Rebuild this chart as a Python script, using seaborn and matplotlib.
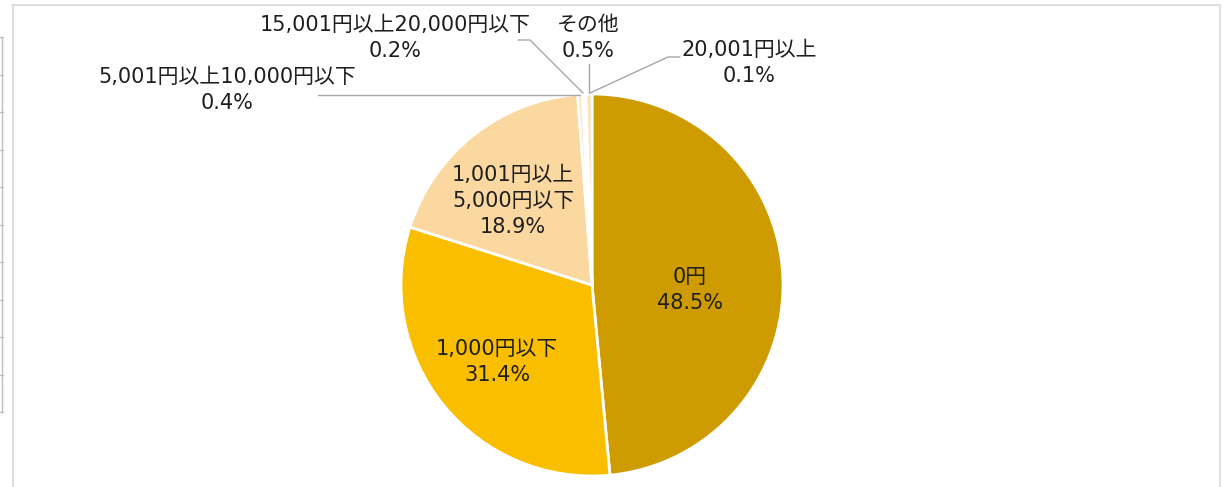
import matplotlib
matplotlib.use('Agg')
import numpy as np
import matplotlib.pyplot as plt
import seaborn as sns
from matplotlib.lines import Line2D

categories = ['0円', '1,000円以下', '1,001円以上\n5,000円以下', '5,001円以上10,000円以下',
              '15,001円以上20,000円以下', '20,001円以上', 'その他']
shares = [48.5, 31.4, 18.9, 0.4, 0.2, 0.1, 0.5]
colors = ['#CE9C00', '#FABE00', '#FBD8A0', '#FCE4C0', '#FDEBD2', '#FEF1E0', '#FCE0B4']

sns.set_theme(style='white')
plt.rcParams['font.family'] = ['DejaVu Sans', 'Noto Sans CJK JP']

W, H = 1229, 487
fig = plt.figure(figsize=(W / 100, H / 100), dpi=100)
cx, cy, r = 592, 285, 191
ax = fig.add_axes([(cx - r) / W, (H - cy - r) / H, 2 * r / W, 2 * r / H])

wedges, _ = ax.pie(shares, colors=colors, startangle=90, counterclock=False, radius=1,
                   wedgeprops=dict(edgecolor='white', linewidth=2))
ax.set_xlim(-1, 1)
ax.set_ylim(-1, 1)
ax.set_aspect('auto')
ax.axis('off')

def px(x, y):
    # pixel (from top-left) -> data coords of the pie axes
    return ((x - cx) / r, (cy - y) / r)

fs = 15
tc = '#1f1f1f'
# labels inside the big slices
inside = {0: (690, 290), 1: (497, 362), 2: (513, 201)}
for i, (x, y) in inside.items():
    ax.text(*px(x, y), f'{categories[i]}\n{shares[i]}%', ha='center', va='center',
            fontsize=fs, color=tc, linespacing=1.35)

# outside labels with leader lines
outside = {
    3: ((227, 90), [(318, 95), (580, 95)]),
    4: ((395, 38), [(518, 40), (530, 40), (583, 93)]),
    6: ((588, 38), [(589, 64), (589, 93)]),
    5: ((749, 63), [(680, 57), (668, 57), (590, 93)]),
}
for i, ((x, y), path) in outside.items():
    ax.text(*px(x, y), f'{categories[i]}\n{shares[i]}%', ha='center', va='center',
            fontsize=fs, color=tc, linespacing=1.35)
    pts = np.array([px(*p) for p in path])
    ax.plot(pts[:, 0], pts[:, 1], color='#A6A6A6', lw=1, clip_on=False)

# frame around chart area
g = '#D9D9D9'
fig.add_artist(Line2D([12 / W, 1220 / W], [1 - 5 / H, 1 - 5 / H], color=g, lw=1.2))
fig.add_artist(Line2D([12.5 / W, 12.5 / W], [0, 1 - 5 / H], color=g, lw=1.2))
fig.add_artist(Line2D([1220 / W, 1220 / W], [0, 1 - 5 / H], color=g, lw=1.2))
# partial axis on the far left
fig.add_artist(Line2D([1.5 / W, 1.5 / W], [1 - 37 / H, 1 - 412 / H], color='#BFBFBF', lw=1))
for ty in np.linspace(37, 412, 11):
    fig.add_artist(Line2D([0, 3 / W], [1 - ty / H, 1 - ty / H], color='#BFBFBF', lw=1))

fig.savefig('out.png', dpi=100)
